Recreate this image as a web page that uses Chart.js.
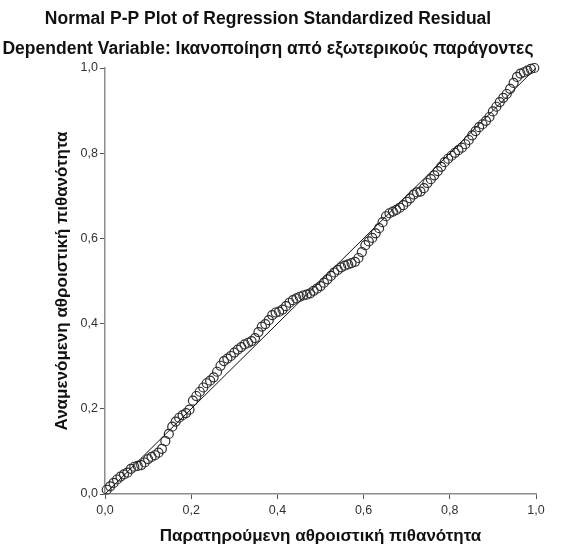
<!DOCTYPE html>
<html>
<head>
<meta charset="utf-8">
<script src="https://cdn.jsdelivr.net/npm/chart.js@4"></script>
<style>
	html, body { margin: 0; padding: 0; background: #fff; }
	#wrap { width: 565px; height: 549px; }
</style>
</head>
<body>
<div id="wrap"><canvas id="pp" width="565" height="549"></canvas></div>
<script>
// Normal P-P plot of the regression's standardized residuals (SPSS style).
// x = observed cumulative probability, y = expected cumulative probability.
const chartTitle = 'Normal P-P Plot of Regression Standardized Residual';
const chartSubtitle = 'Dependent Variable: Ικανοποίηση από εξωτερικούς παράγοντες';
const xTitle = 'Παρατηρούμενη αθροιστική πιθανότητα';
const yTitle = 'Αναμενόμενη αθροιστική πιθανότητα';

const observedProb = [
	0.004, 0.012, 0.020, 0.028, 0.036, 0.044, 0.052, 0.060, 0.068, 0.076,
	0.084, 0.092, 0.100, 0.108, 0.116, 0.124, 0.132, 0.140, 0.148, 0.156,
	0.164, 0.172, 0.180, 0.188, 0.196, 0.204, 0.212, 0.220, 0.228, 0.236,
	0.244, 0.252, 0.260, 0.268, 0.276, 0.284, 0.292, 0.300, 0.308, 0.316,
	0.324, 0.332, 0.340, 0.348, 0.356, 0.364, 0.372, 0.380, 0.388, 0.396,
	0.404, 0.412, 0.420, 0.428, 0.436, 0.444, 0.452, 0.460, 0.468, 0.476,
	0.484, 0.492, 0.500, 0.508, 0.516, 0.524, 0.532, 0.540, 0.548, 0.556,
	0.564, 0.572, 0.580, 0.588, 0.596, 0.604, 0.612, 0.620, 0.628, 0.636,
	0.644, 0.652, 0.660, 0.668, 0.676, 0.684, 0.692, 0.700, 0.708, 0.716,
	0.724, 0.732, 0.740, 0.748, 0.756, 0.764, 0.772, 0.780, 0.788, 0.796,
	0.804, 0.812, 0.820, 0.828, 0.836, 0.844, 0.852, 0.860, 0.868, 0.876,
	0.884, 0.892, 0.900, 0.908, 0.916, 0.924, 0.932, 0.940, 0.948, 0.956,
	0.964, 0.972, 0.980, 0.988, 0.996,
];
const expectedProb = [
	0.010, 0.018, 0.026, 0.034, 0.041, 0.046, 0.050, 0.059, 0.064, 0.066,
	0.068, 0.074, 0.082, 0.087, 0.091, 0.097, 0.106, 0.124, 0.141, 0.158,
	0.170, 0.179, 0.185, 0.190, 0.198, 0.219, 0.230, 0.240, 0.250, 0.260,
	0.266, 0.274, 0.287, 0.301, 0.312, 0.318, 0.324, 0.332, 0.339, 0.345,
	0.351, 0.355, 0.359, 0.366, 0.380, 0.393, 0.399, 0.408, 0.420, 0.426,
	0.428, 0.433, 0.441, 0.449, 0.455, 0.459, 0.463, 0.466, 0.468, 0.471,
	0.477, 0.482, 0.488, 0.496, 0.504, 0.512, 0.520, 0.526, 0.532, 0.536,
	0.539, 0.542, 0.545, 0.554, 0.568, 0.584, 0.593, 0.601, 0.612, 0.624,
	0.638, 0.652, 0.659, 0.663, 0.667, 0.672, 0.678, 0.686, 0.694, 0.703,
	0.708, 0.710, 0.718, 0.730, 0.739, 0.748, 0.758, 0.768, 0.779, 0.787,
	0.794, 0.801, 0.807, 0.813, 0.821, 0.831, 0.842, 0.852, 0.861, 0.868,
	0.876, 0.885, 0.898, 0.909, 0.920, 0.930, 0.939, 0.951, 0.965, 0.979,
	0.987, 0.990, 0.994, 0.998, 1.000,
];
// reference diagonal
const diagonalX = [0, 1];
const diagonalY = [0, 1];

const font = 'Liberation Sans, Arial, sans-serif';
const commaTick = v => v.toFixed(1).replace('.', ',');

const axis = (title, isX) => ({
	type: 'linear',
	min: 0,
	max: 1,
	afterFit: s => { if (isX) s.height = 55; else s.width = 105; },
	border: { display: true, color: '#8c8c8c', width: 1.5 },
	grid: { drawOnChartArea: false, drawTicks: true, tickLength: 5, color: '#555', tickWidth: 1 },
	ticks: {
		stepSize: 0.2,
		padding: isX ? 4 : 2,
		color: '#333',
		font: { family: font, size: 12.5 },
		callback: commaTick,
	},
	title: {
		display: true,
		text: title,
		color: '#111',
		font: { family: font, size: 17, weight: 'bold' },
		padding: isX ? { top: 0, bottom: 2 } : { top: 52, bottom: 0 },
	},
});

new Chart(document.getElementById('pp'), {
	type: 'scatter',
	data: {
		datasets: [
			{
				type: 'line',
				data: diagonalX.map((x, i) => ({ x, y: diagonalY[i] })),
				borderColor: '#111',
				borderWidth: 1,
				pointRadius: 0,
				fill: false,
			},
			{
				data: observedProb.map((x, i) => ({ x, y: expectedProb[i] })),
				pointStyle: 'circle',
				pointRadius: 4.5,
				borderWidth: 1.2,
				borderColor: '#2e2e2e',
				backgroundColor: 'rgba(0,0,0,0)',
				clip: false,
			},
		],
	},
	options: {
		responsive: false,
		animation: false,
		devicePixelRatio: 1,
		layout: { padding: { left: 0, right: 29, top: 0, bottom: 0 } },
		scales: {
			x: axis(xTitle, true),
			y: axis(yTitle, false),
		},
		plugins: {
			legend: { display: false },
			tooltip: { enabled: false },
			title: {
				display: true,
				text: chartTitle,
				color: '#111',
				font: { family: font, size: 17.5, weight: 'bold' },
				padding: { top: 8.5, bottom: 5 },
			},
			subtitle: {
				display: true,
				text: chartSubtitle,
				color: '#111',
				font: { family: font, size: 17.5, weight: 'bold' },
				padding: { top: 4, bottom: 8.5 },
			},
		},
	},
});
</script>
</body>
</html>
